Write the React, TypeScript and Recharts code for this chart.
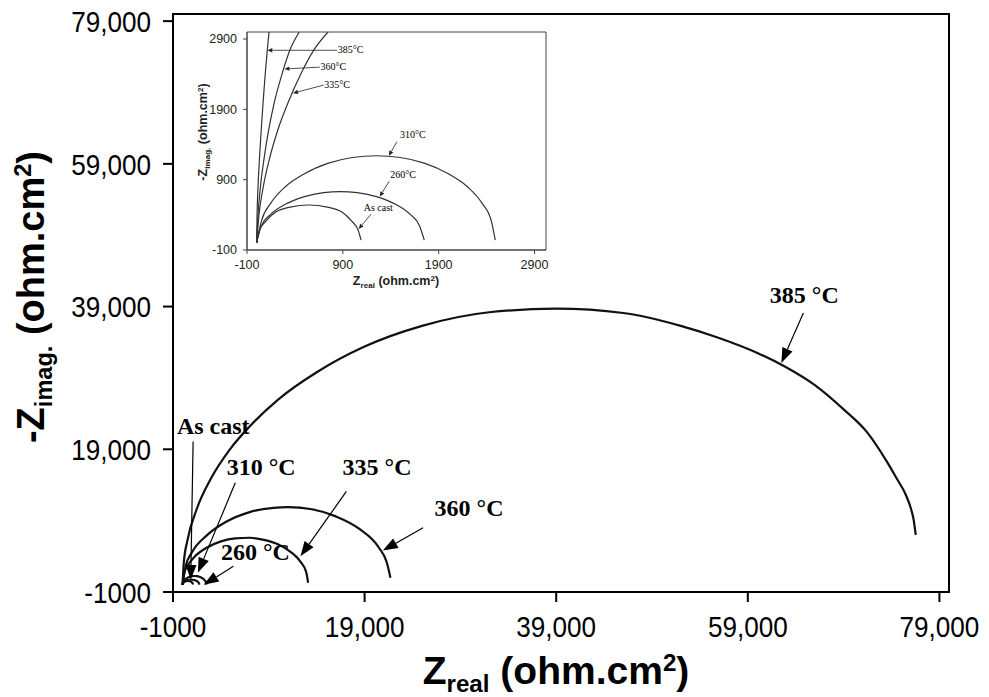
import React from 'react';
import { LineChart, Line, XAxis, YAxis, ReferenceArea, ReferenceLine, ReferenceDot } from 'recharts';

type Pt = { x: number; y: number };

// Nyquist curves, Z_real vs -Z_imag (ohm.cm2)
const asCast: Pt[] = [
  { x: 0, y: 0 }, { x: 30, y: 180 }, { x: 100, y: 315 }, { x: 200, y: 440 }, { x: 350, y: 510 },
  { x: 545, y: 540 }, { x: 740, y: 510 }, { x: 890, y: 440 }, { x: 990, y: 315 }, { x: 1060, y: 180 },
  { x: 1090, y: 40 },
];
const c260: Pt[] = [
  { x: 0, y: 0 }, { x: 50, y: 245 }, { x: 150, y: 410 }, { x: 300, y: 550 }, { x: 500, y: 660 },
  { x: 700, y: 715 }, { x: 875, y: 730 }, { x: 1050, y: 715 }, { x: 1250, y: 660 }, { x: 1450, y: 550 },
  { x: 1600, y: 410 }, { x: 1700, y: 245 }, { x: 1750, y: 40 },
];
const c310: Pt[] = [
  { x: 0, y: 0 }, { x: 50, y: 310 }, { x: 150, y: 570 }, { x: 300, y: 800 }, { x: 500, y: 985 },
  { x: 750, y: 1135 }, { x: 1000, y: 1215 }, { x: 1250, y: 1240 }, { x: 1500, y: 1215 }, { x: 1750, y: 1135 },
  { x: 2000, y: 985 }, { x: 2200, y: 800 }, { x: 2350, y: 570 }, { x: 2450, y: 310 }, { x: 2490, y: 40 },
];
const c335: Pt[] = [
  { x: 0, y: 0 }, { x: 200, y: 1800 }, { x: 600, y: 2850 }, { x: 1300, y: 4000 }, { x: 2500, y: 5200 },
  { x: 4000, y: 6100 }, { x: 5500, y: 6520 }, { x: 7000, y: 6600 }, { x: 8500, y: 6300 }, { x: 10000, y: 5650 },
  { x: 11300, y: 4600 }, { x: 12300, y: 3250 }, { x: 12900, y: 1800 }, { x: 13100, y: 300 },
];
const c360: Pt[] = [
  { x: 0, y: 0 }, { x: 300, y: 2500 }, { x: 1000, y: 4600 }, { x: 2500, y: 6900 }, { x: 4500, y: 8800 },
  { x: 7000, y: 10200 }, { x: 9500, y: 10800 }, { x: 11000, y: 10900 }, { x: 13500, y: 10600 }, { x: 16000, y: 9600 },
  { x: 18500, y: 7800 }, { x: 20500, y: 5200 }, { x: 21300, y: 3200 }, { x: 21700, y: 1000 },
];
const c385: Pt[] = [
  { x: 0, y: 0 }, { x: 120, y: 3000 }, { x: 500, y: 6200 }, { x: 1500, y: 10700 }, { x: 3000, y: 15000 },
  { x: 5000, y: 19100 }, { x: 7000, y: 22200 }, { x: 10000, y: 26000 }, { x: 14000, y: 29800 }, { x: 19000, y: 33400 },
  { x: 25000, y: 36300 }, { x: 32000, y: 38200 }, { x: 39000, y: 38700 }, { x: 46000, y: 38100 }, { x: 52000, y: 36300 },
  { x: 56000, y: 34600 }, { x: 60000, y: 32500 }, { x: 63000, y: 30500 }, { x: 66000, y: 28000 }, { x: 69000, y: 24600 },
  { x: 71500, y: 21300 }, { x: 73500, y: 17300 }, { x: 74500, y: 15000 }, { x: 75500, y: 12600 }, { x: 76000, y: 10800 },
  { x: 76300, y: 9200 }, { x: 76530, y: 7000 },
];

// inset: the steep starts of the three big arcs, up to the top of the inset
const c335Inset: Pt[] = [
  { x: 0, y: 0 }, { x: 25, y: 400 }, { x: 70, y: 800 }, { x: 135, y: 1200 }, { x: 220, y: 1600 },
  { x: 330, y: 2000 }, { x: 460, y: 2400 }, { x: 600, y: 2750 }, { x: 745, y: 3000 },
];
const c360Inset: Pt[] = [
  { x: 0, y: 0 }, { x: 15, y: 400 }, { x: 40, y: 800 }, { x: 78, y: 1200 }, { x: 125, y: 1600 },
  { x: 185, y: 2000 }, { x: 265, y: 2400 }, { x: 350, y: 2750 }, { x: 445, y: 3000 },
];
const c385Inset: Pt[] = [
  { x: 0, y: 0 }, { x: 5, y: 400 }, { x: 15, y: 800 }, { x: 30, y: 1200 }, { x: 48, y: 1600 },
  { x: 68, y: 2000 }, { x: 90, y: 2400 }, { x: 112, y: 2750 }, { x: 130, y: 3000 },
];

const mainTicks = [-1000, 19000, 39000, 59000, 79000];
const insetTicks = [-100, 900, 1900, 2900];

const mainLabels = [
  { text: '385 °C', x: 64900, y: 39500 },
  { text: 'As cast', x: 3200, y: 21200 },
  { text: '310 °C', x: 8200, y: 15400 },
  { text: '335 °C', x: 20300, y: 15400 },
  { text: '360 °C', x: 29900, y: 9600 },
  { text: '260 °C', x: 7600, y: 3500 },
];
const mainArrows = [
  { from: [64800, 38100], to: [62500, 31100] },
  { from: [25100, 8000], to: [20900, 4800] },
  { from: [17100, 13100], to: [12300, 4000] },
  { from: [5500, 14300], to: [1600, 1700] },
  { from: [5300, 2600], to: [2200, 0] },
  { from: [1100, 20100], to: [850, 700] },
];
const insetLabels = [
  { text: '385°C', x: 980, y: 2700 },
  { text: '360°C', x: 800, y: 2460 },
  { text: '335°C', x: 840, y: 2200 },
  { text: '310°C', x: 1630, y: 1490 },
  { text: '260°C', x: 1530, y: 920 },
  { text: 'As cast', x: 1270, y: 455 },
];
const insetArrows = [
  { from: [840, 2740], to: [112, 2740] },
  { from: [660, 2500], to: [290, 2475] },
  { from: [700, 2245], to: [380, 2130] },
  { from: [1465, 1440], to: [1380, 1240] },
  { from: [1385, 880], to: [1285, 660] },
  { from: [1195, 410], to: [1065, 200] },
];

const sans = '"Liberation Sans", Arial, sans-serif';
const serif = '"Liberation Serif", "Times New Roman", serif';

const fmtMain = (v: number) => (Math.abs(v) >= 10000 ? v.toLocaleString('en-US') : String(v));

// tick labels in the original are a little narrow
function condensedTick(anchor: 'end' | 'middle', dy: string) {
  return (p: any) => (
    <g transform={`translate(${p.x},${p.y})`}>
      <text transform="scale(0.87,1)" textAnchor={anchor} dy={dy} fontSize={30} fontFamily={sans} fill="#000">
        {fmtMain(p.payload.value)}
      </text>
    </g>
  );
}

function arrowShape(head: number, half: number, width: number, color: string) {
  return (p: any) => {
    const { x1, y1, x2, y2 } = p;
    const dx = x2 - x1;
    const dy = y2 - y1;
    const len = Math.hypot(dx, dy) || 1;
    const ux = dx / len;
    const uy = dy / len;
    const bx = x2 - ux * head;
    const by = y2 - uy * head;
    const pts = `${x2},${y2} ${bx - uy * half},${by + ux * half} ${bx + uy * half},${by - ux * half}`;
    return (
      <g>
        <line x1={x1} y1={y1} x2={bx} y2={by} stroke={color} strokeWidth={width} />
        <polygon points={pts} fill={color} />
      </g>
    );
  };
}

function textShape(text: string, size: number, weight: number) {
  return (p: any) => (
    <text x={p.cx} y={p.cy} textAnchor="middle" fontFamily={serif} fontSize={size} fontWeight={weight} fill="#000">
      {text}
    </text>
  );
}

function Inset() {
  const stroke = '#333';
  return (
    <div style={{ position: 'absolute', left: 190, top: 20, width: 380, height: 280 }}>
      <LineChart width={380} height={280} margin={{ top: 12, right: 24, left: 0, bottom: 0 }}>
        <XAxis
          dataKey="x"
          type="number"
          domain={[-100, 3020]}
          ticks={insetTicks}
          allowDataOverflow
          tickSize={4}
          tickMargin={6}
          height={50}
          axisLine={{ stroke: '#444' }}
          tickLine={{ stroke: '#444' }}
          tick={{ fontSize: 12.5, fill: '#222', fontFamily: sans }}
        />
        <YAxis
          type="number"
          domain={[-100, 3000]}
          ticks={insetTicks}
          allowDataOverflow
          tickSize={4}
          tickMargin={6}
          width={57}
          axisLine={{ stroke: '#444' }}
          tickLine={{ stroke: '#444' }}
          tick={{ fontSize: 12.5, fill: '#222', fontFamily: sans }}
        />
        <ReferenceArea x1={-100} x2={3020} y1={-100} y2={3000} fill="none" stroke="#444" strokeWidth={1} ifOverflow="visible" />
        {[asCast, c260, c310, c335Inset, c360Inset, c385Inset].map((d, i) => (
          <Line key={i} data={d} dataKey="y" type="monotone" stroke={stroke} strokeWidth={1.2} dot={false} isAnimationActive={false} />
        ))}
        {insetArrows.map((a, i) => (
          <ReferenceLine
            key={'a' + i}
            segment={[{ x: a.from[0], y: a.from[1] }, { x: a.to[0], y: a.to[1] }]}
            ifOverflow="visible"
            shape={arrowShape(5, 2.2, 0.8, '#222')}
          />
        ))}
        {insetLabels.map((l, i) => (
          <ReferenceDot key={'l' + i} x={l.x} y={l.y} r={1} ifOverflow="visible" shape={textShape(l.text, 10, 400)} />
        ))}
      </LineChart>
      <div
        style={{
          position: 'absolute', left: 206, top: 255, transform: 'translateX(-50%)', whiteSpace: 'nowrap',
          font: `bold 12.5px ${sans}`, lineHeight: 1, color: '#222',
        }}
      >
        Z<span style={{ fontSize: '0.65em', position: 'relative', top: '0.35em' }}>real</span> (ohm.cm
        <span style={{ fontSize: '0.65em', position: 'relative', top: '-0.55em' }}>2</span>)
      </div>
      <div
        style={{
          position: 'absolute', left: 13, top: 112, transform: 'translate(-50%, -50%) rotate(-90deg)', whiteSpace: 'nowrap',
          font: `bold 12.5px ${sans}`, lineHeight: 1, color: '#222',
        }}
      >
        -Z<span style={{ fontSize: '0.65em', position: 'relative', top: '0.35em' }}>imag.</span> (ohm.cm
        <span style={{ fontSize: '0.65em', position: 'relative', top: '-0.55em' }}>2</span>)
      </div>
    </div>
  );
}

export default function App() {
  return (
    <div style={{ position: 'absolute', left: 0, top: 0, width: 989, height: 697, background: '#fff' }}>
      <LineChart width={989} height={697} margin={{ top: 14, right: 40, left: 0, bottom: 0 }}>
        <XAxis
          dataKey="x"
          type="number"
          domain={[-1000, 80000]}
          ticks={mainTicks}
          allowDataOverflow
          tickSize={10}
          tickMargin={14}
          height={105}
          axisLine={{ stroke: '#000', strokeWidth: 2 }}
          tickLine={{ stroke: '#000', strokeWidth: 2 }}
          tick={condensedTick('middle', '0.71em')}
        />
        <YAxis
          type="number"
          domain={[-1000, 80000]}
          ticks={mainTicks}
          allowDataOverflow
          tickSize={10}
          tickMargin={12}
          width={173}
          axisLine={{ stroke: '#000', strokeWidth: 2 }}
          tickLine={{ stroke: '#000', strokeWidth: 2 }}
          tick={condensedTick('end', '0.355em')}
        />
        <ReferenceArea x1={-1000} x2={80000} y1={-1000} y2={80000} fill="none" stroke="#000" strokeWidth={2} ifOverflow="visible" />
        {[asCast, c260, c310, c335, c360, c385].map((d, i) => (
          <Line key={i} data={d} dataKey="y" type="monotone" stroke="#111" strokeWidth={2.2} dot={false} isAnimationActive={false} />
        ))}
        {mainArrows.map((a, i) => (
          <ReferenceLine
            key={'a' + i}
            segment={[{ x: a.from[0], y: a.from[1] }, { x: a.to[0], y: a.to[1] }]}
            ifOverflow="visible"
            shape={arrowShape(15, 5.5, 1.2, '#000')}
          />
        ))}
        {mainLabels.map((l, i) => (
          <ReferenceDot key={'l' + i} x={l.x} y={l.y} r={1} ifOverflow="visible" shape={textShape(l.text, 24, 700)} />
        ))}
      </LineChart>
      <Inset />
      <div
        style={{
          position: 'absolute', left: 556, top: 651, transform: 'translateX(-50%)', whiteSpace: 'nowrap',
          font: `bold 39px ${sans}`, lineHeight: 1, color: '#000',
        }}
      >
        Z<span style={{ fontSize: '0.62em', position: 'relative', top: '0.35em' }}>real</span> (ohm.cm
        <span style={{ fontSize: '0.62em', position: 'relative', top: '-0.55em' }}>2</span>)
      </div>
      <div
        style={{
          position: 'absolute', left: 31, top: 297, transform: 'translate(-50%, -50%) rotate(-90deg)', whiteSpace: 'nowrap',
          font: `bold 38px ${sans}`, lineHeight: 1, color: '#000',
        }}
      >
        -Z<span style={{ fontSize: '0.62em', position: 'relative', top: '0.35em' }}>imag.</span> (ohm.cm
        <span style={{ fontSize: '0.62em', position: 'relative', top: '-0.55em' }}>2</span>)
      </div>
    </div>
  );
}
